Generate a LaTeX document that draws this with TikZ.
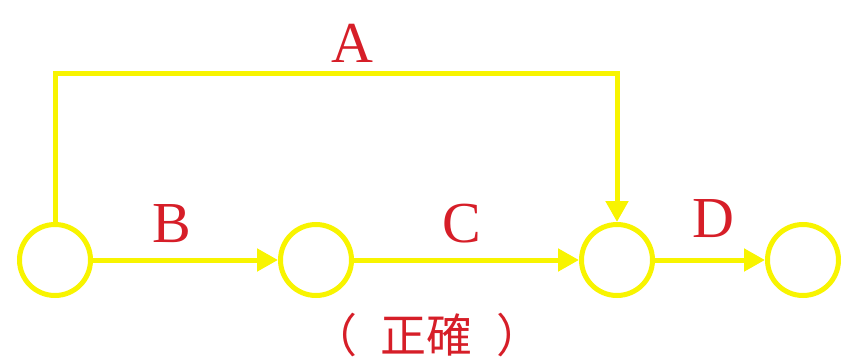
\documentclass[tikz,border=0pt]{standalone}
\usepackage{fontspec}
\setmainfont{Liberation Serif}
\newfontfamily\cjkfont{Noto Sans CJK TC}
\usepackage{tikz}
\usetikzlibrary{arrows.meta,positioning,calc}
\definecolor{netyellow}{RGB}{248,244,0}
\definecolor{netred}{RGB}{214,30,40}
\tikzset{
  evt/.style={circle, draw=netyellow, line width=5pt, minimum size=71pt, inner sep=0pt},
  act/.style={netyellow, line width=5pt, -{Triangle[length=21pt,width=22pt]}},
  alab/.style={font=\fontsize{58}{60}\selectfont, text=netred, inner sep=0pt},
  note/.style={font=\cjkfont\fontsize{46}{48}\selectfont, text=netred, inner sep=0pt},
}
\begin{document}
\begin{tikzpicture}[x=1pt,y=-1pt]
\useasboundingbox (0,0) rectangle (844,364);
% events
\node[evt] (ev1) at (55,260) {};
\node[evt] (ev2) at (316,260) {};
\node[evt] (ev3) at (617,260) {};
\node[evt] (ev4) at (803,260) {};
% activities
\draw[act] (ev1.north) -- (ev1.north |- 0,73) -| (ev3.north);
\draw[act] (ev1) -- (ev2);
\draw[act] (ev2) -- (ev3);
\draw[act] (ev3) -- (ev4);
\node[alab] (labA) at (352,43) {A};
\node[alab] (labB) at (172,224) {B};
\node[alab] (labC) at (462,224) {C};
\node[alab] (labD) at (713,219) {D};
\node[note] (ok) at (427,335) {（\kern24pt 正確\kern24pt ）};
\end{tikzpicture}
\end{document}
